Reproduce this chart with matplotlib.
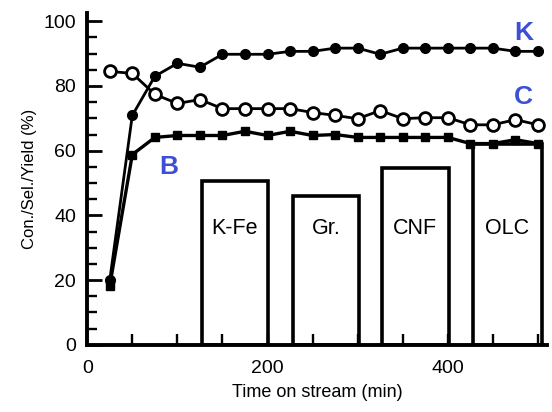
import matplotlib.pyplot as plt
from matplotlib.ticker import MultipleLocator

plt.rcParams['font.family'] = ['Liberation Sans', 'DejaVu Sans']

# time on stream (min)
time = [25, 50, 75, 100, 125, 150, 175, 200, 225, 250,
        275, 300, 325, 350, 375, 400, 425, 450, 475, 500]

conv_k = [20.0, 70.9, 83.0, 87.0, 85.8, 89.8, 89.8, 89.8, 90.7, 90.7,
          91.7, 91.7, 89.8, 91.7, 91.7, 91.7, 91.7, 91.7, 90.7, 90.7]
sel_c = [84.5, 83.9, 77.4, 74.6, 75.8, 73.0, 73.0, 73.0, 73.0, 71.8,
         70.9, 69.9, 72.4, 69.9, 70.2, 70.2, 68.0, 68.0, 69.6, 68.0]
yield_b = [18.3, 58.8, 64.1, 64.7, 64.7, 64.7, 66.0, 64.7, 66.0, 64.7,
           65.0, 64.1, 64.1, 64.1, 64.1, 64.1, 62.2, 62.2, 63.4, 62.2]

# catalyst comparison boxes
catalysts = ['K-Fe', 'Gr.', 'CNF', 'OLC']
box_left = [127, 228, 327, 428]
box_right = [200, 302, 401, 504]
box_height = [50.5, 46.0, 54.5, 62.0]

fig = plt.figure(figsize=(5.52, 4.12), dpi=100)
ax = fig.add_axes([0.158, 0.163, 0.833, 0.805])

for name, x0, x1, h in zip(catalysts, box_left, box_right, box_height):
    ax.bar(x0, h, width=x1 - x0, align='edge', facecolor='white',
           edgecolor='black', linewidth=2.6, zorder=1)
    ax.text((x0 + x1) / 2, 36, name, ha='center', va='center',
            fontsize=15.5, zorder=2)

ax.plot(time, conv_k, '-o', color='black', lw=2.0, ms=7, zorder=4)
ax.plot(time, sel_c, '-o', color='black', lw=2.0, ms=8.5,
        mfc='white', mew=2.0, zorder=4)
ax.plot(time, yield_b, '-s', color='black', lw=2.4, ms=5.5, zorder=4)

hand = dict(color='#3d4fd6', fontsize=19, fontweight='bold',
            ha='center', va='center')
ax.text(484, 96.5, 'K', **hand)
ax.text(484, 76.5, 'C', **hand)
ax.text(90, 55, 'B', **hand)

ax.set_xlim(0, 510)
ax.set_ylim(0, 102.5)
ax.xaxis.set_major_locator(MultipleLocator(200))
ax.xaxis.set_minor_locator(MultipleLocator(50))
ax.yaxis.set_major_locator(MultipleLocator(20))
ax.yaxis.set_minor_locator(MultipleLocator(5))

ax.spines['top'].set_visible(False)
ax.spines['right'].set_visible(False)
ax.spines['left'].set_linewidth(2.8)
ax.spines['bottom'].set_linewidth(2.8)

ax.tick_params(axis='y', which='major', direction='in', length=11,
               width=2.0, labelsize=14, pad=8)
ax.tick_params(axis='y', which='minor', direction='in', length=7, width=1.7)
ax.tick_params(axis='x', which='both', direction='in', length=8,
               width=1.7, labelsize=14, pad=11)

ax.set_xlabel('Time on stream (min)', fontsize=13, labelpad=5)
ax.set_ylabel('Con./Sel./Yield (%)', fontsize=12, labelpad=5)

fig.savefig('out.png', dpi=100)
